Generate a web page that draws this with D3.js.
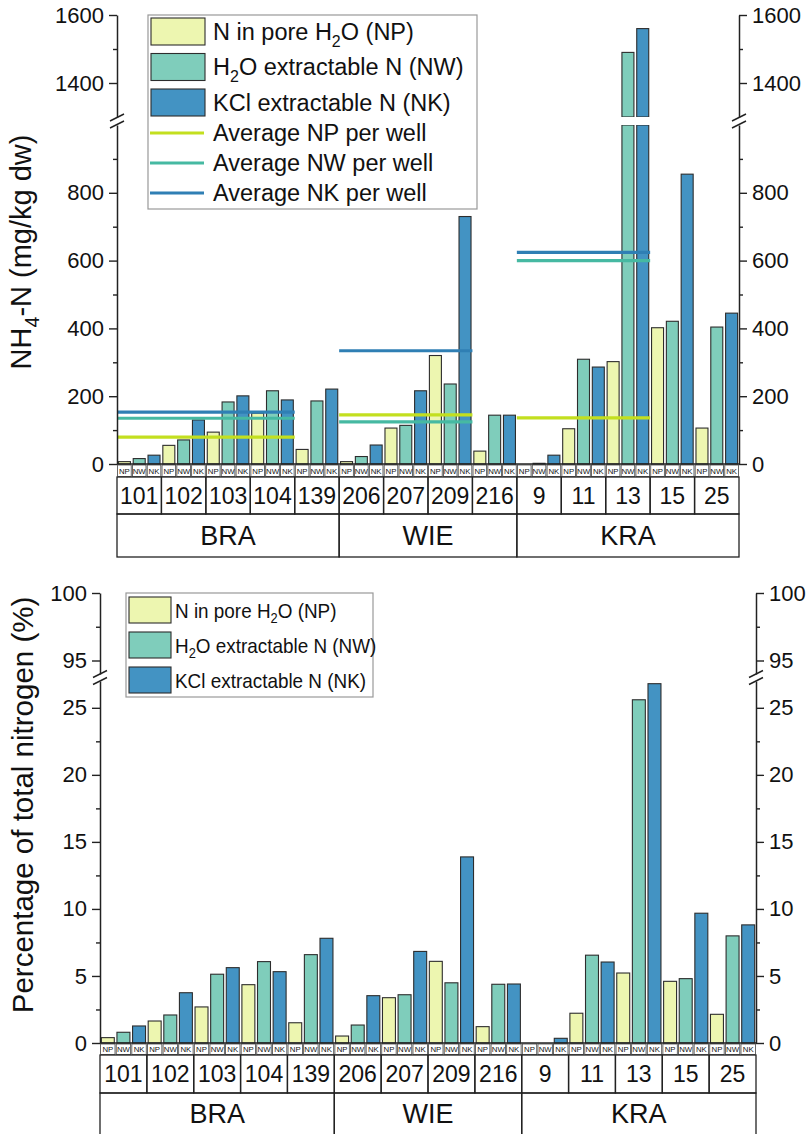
<!DOCTYPE html>
<html>
<head>
<meta charset="utf-8">
<script src="https://cdn.jsdelivr.net/npm/d3@7"></script>
<style>
  body { margin: 0; background: #fff; }
  text { font-family: "Liberation Sans", Arial, Helvetica, sans-serif; fill: #111; }
</style>
</head>
<body>
<svg id="chart" width="811" height="1134"></svg>
<script>
// ---- data ----
const regions = ["BRA", "WIE", "KRA"];
const wells = ["101", "102", "103", "104", "139", "206", "207", "209", "216", "9", "11", "13", "15", "25"];
const wellRegion = ["BRA", "BRA", "BRA", "BRA", "BRA", "WIE", "WIE", "WIE", "WIE", "KRA", "KRA", "KRA", "KRA", "KRA"];
const fractions = ["NP", "NW", "NK"];

// NH4-N (mg/kg dw) per well
const nh4NP = [7, 55, 94, 150, 43, 7, 106, 320, 38, 0, 104, 302, 402, 106];
const nh4NW = [16, 71, 183, 216, 186, 22, 114, 236, 144, 2, 309, 1490, 421, 404];
const nh4NK = [26, 130, 201, 189, 221, 56, 216, 730, 144, 26, 286, 1560, 855, 445];

// averages per site, drawn from the left edge of avgFromWell to the left edge of avgToWell
const avgNP = [79, 145, 136];
const avgNW = [135, 124, 600];
const avgNK = [153, 334, 624];
const avgFromWell = ["101", "206", "9"];
const avgToWell = ["139", "216", "15"];

// percentage of total nitrogen per well
const pctNP = [0.4, 1.64, 2.69, 4.35, 1.51, 0.52, 3.38, 6.09, 1.22, 0, 2.22, 5.22, 4.6, 2.14];
const pctNW = [0.8, 2.09, 5.13, 6.07, 6.59, 1.34, 3.6, 4.49, 4.38, 0, 6.55, 25.6, 4.8, 7.99];
const pctNK = [1.27, 3.75, 5.62, 5.32, 7.81, 3.53, 6.83, 13.88, 4.4, 0.35, 6.04, 26.8, 9.68, 8.81];

// tick values
const nh4TicksLow = [0, 200, 400, 600, 800];
const nh4MinorLow = [100, 300, 500, 700, 900];
const nh4TicksHigh = [1400, 1600];
const nh4MinorHigh = [1500];
const pctTicksLow = [0, 5, 10, 15, 20, 25];
const pctMinorLow = [2.5, 7.5, 12.5, 17.5, 22.5];
const pctTicksHigh = [95, 100];
const pctMinorHigh = [97.5];

// ---- style ----
const fill = { NP: "#edf6b0", NW: "#7fcdbb", NK: "#4393c3" };
const avgStroke = { NP: "#c3df1f", NW: "#46b9a2", NK: "#2f7fb4" };
const legendLabels = {
  NP: ["N in pore H", "2", "O (NP)"],
  NW: ["H", "2", "O extractable N (NW)"],
  NK: ["KCl extractable N (NK)"]
};

const svg = d3.select("#chart");

// text with an optional subscript part: [before, sub, after]
function richText(sel, parts, size) {
  const t = sel.append("text").attr("font-size", size);
  t.append("tspan").text(parts[0]);
  if (parts.length > 1) {
    t.append("tspan").text(parts[1]).attr("font-size", size * 0.68).attr("dy", size * 0.28);
    t.append("tspan").text(parts[2]).attr("dy", -size * 0.28);
  }
  return t;
}

function drawPanel(cfg) {
  const g = svg.append("g");
  const slots = wells.flatMap(w => fractions.map(f => w + "|" + f));
  const xSlot = d3.scaleBand().domain(slots).range([cfg.x0, cfg.x1]);
  const xWell = d3.scaleBand().domain(wells).range([cfg.x0, cfg.x1]);
  const yLo = d3.scaleLinear().domain(cfg.loDomain).range(cfg.loRange);
  const yHi = d3.scaleLinear().domain(cfg.hiDomain).range(cfg.hiRange);
  const loMax = cfg.loDomain[1];
  const bw = xSlot.bandwidth() * cfg.barFrac;
  const yZero = yLo(0);

  const rows = [];
  wells.forEach((w, i) => fractions.forEach(f => rows.push({ w, f, v: cfg.series[f][i] })));

  // bars (split into two pieces when they run past the axis break)
  const bars = g.append("g");
  const gaps = g.append("g");
  rows.forEach(d => {
    if (d.v <= 0) return;
    const x = xSlot(d.w + "|" + d.f) + (xSlot.bandwidth() - bw) / 2;
    const top = Math.min(d.v, loMax);
    bars.append("rect")
      .attr("x", x).attr("width", bw)
      .attr("y", yLo(top)).attr("height", yZero - yLo(top))
      .attr("fill", fill[d.f]).attr("stroke", "#2d2d2d").attr("stroke-width", 1.1);
    if (d.v > loMax) {
      bars.append("rect")
        .attr("x", x).attr("width", bw)
        .attr("y", yHi(d.v)).attr("height", yHi(cfg.hiDomain[0]) - yHi(d.v))
        .attr("fill", fill[d.f]).attr("stroke", "#2d2d2d").attr("stroke-width", 1.1);
      // white gap at the break
      gaps.append("rect")
        .attr("x", x - 1.5).attr("width", bw + 3)
        .attr("y", yHi(cfg.hiDomain[0])).attr("height", yLo(loMax) - yHi(cfg.hiDomain[0]))
        .attr("fill", "#fff");
    }
  });

  // per-site averages
  if (cfg.avg) {
    const ag = g.append("g");
    regions.forEach((r, i) => {
      fractions.forEach(f => {
        ag.append("line")
          .attr("x1", xWell(avgFromWell[i])).attr("x2", xWell(avgToWell[i]))
          .attr("y1", yLo(cfg.avg[f][i])).attr("y2", yLo(cfg.avg[f][i]))
          .attr("stroke", avgStroke[f]).attr("stroke-width", 3.2);
      });
    });
  }

  // y axes (left and right), each in two segments
  const sides = [
    { x: cfg.x0, make: d3.axisLeft },
    { x: cfg.x1, make: d3.axisRight }
  ];
  sides.forEach(s => {
    const ax = g.append("g").attr("transform", `translate(${s.x},0)`);
    [[yLo, cfg.loTicks, cfg.loMinor], [yHi, cfg.hiTicks, cfg.hiMinor]].forEach(([sc, major, minor]) => {
      ax.append("g").call(s.make(sc).tickValues(major).tickFormat(d => String(d))
          .tickSize(8).tickSizeOuter(0).tickPadding(5))
        .call(a => a.selectAll("text").attr("font-size", cfg.tickFont).attr("fill", "#111")
          .style("font-family", '"Liberation Sans", Arial, sans-serif'))
        .call(a => a.selectAll("line").attr("stroke", "#222").attr("stroke-width", 1.4))
        .call(a => a.select(".domain").attr("stroke", "#222").attr("stroke-width", 1.5));
      ax.append("g").call(s.make(sc).tickValues(minor).tickSize(4).tickFormat(""))
        .call(a => a.select(".domain").remove())
        .call(a => a.selectAll("line").attr("stroke", "#222").attr("stroke-width", 1.4));
    });
    // break marks
    const yb = (cfg.hiRange[0] + cfg.loRange[1]) / 2;
    [-3.5, 3.5].forEach(off => {
      ax.append("line")
        .attr("x1", -7).attr("x2", 7)
        .attr("y1", yb + off + 3.5).attr("y2", yb + off - 3.5)
        .attr("stroke", "#222").attr("stroke-width", 1.4);
    });
  });

  // category table under the bars
  const tg = g.append("g");
  const r1 = yZero + cfg.rowH[0], r2 = r1 + cfg.rowH[1];
  slots.forEach(s => {
    const f = s.split("|")[1];
    tg.append("rect")
      .attr("x", xSlot(s) + 0.6).attr("width", xSlot.bandwidth() - 1.2)
      .attr("y", yZero + 1).attr("height", cfg.rowH[0] - 1.5)
      .attr("fill", "#fff").attr("stroke", "#444").attr("stroke-width", 0.8);
    tg.append("text")
      .attr("x", xSlot(s) + xSlot.bandwidth() / 2).attr("y", yZero + cfg.rowH[0] / 2 + 3)
      .attr("text-anchor", "middle").attr("font-size", 7.8).text(f);
  });
  wells.forEach(w => {
    tg.append("rect")
      .attr("x", xWell(w)).attr("width", xWell.bandwidth())
      .attr("y", r1).attr("height", cfg.rowH[1])
      .attr("fill", "none").attr("stroke", "#222").attr("stroke-width", 1.3);
    tg.append("text")
      .attr("x", xWell(w) + xWell.bandwidth() / 2).attr("y", r1 + cfg.rowH[1] / 2 + cfg.wellFont * 0.36)
      .attr("text-anchor", "middle").attr("font-size", cfg.wellFont).text(w);
  });
  regions.forEach(r => {
    const ws = wells.filter((w, i) => wellRegion[i] === r);
    const xa = xWell(ws[0]), xb = xWell(ws[ws.length - 1]) + xWell.bandwidth();
    tg.append("rect")
      .attr("x", xa).attr("width", xb - xa)
      .attr("y", r2).attr("height", cfg.rowH[2])
      .attr("fill", "none").attr("stroke", "#222").attr("stroke-width", 1.3);
    tg.append("text")
      .attr("x", (xa + xb) / 2).attr("y", r2 + cfg.regionTextY)
      .attr("text-anchor", "middle").attr("font-size", cfg.regionFont).text(r);
  });
  // x axis line at zero
  g.append("line").attr("x1", cfg.x0).attr("x2", cfg.x1).attr("y1", yZero).attr("y2", yZero)
    .attr("stroke", "#222").attr("stroke-width", 1.4);

  // legend
  const L = cfg.legend;
  const lg = g.append("g");
  lg.append("rect").attr("x", L.x).attr("y", L.y).attr("width", L.w).attr("height", L.h)
    .attr("fill", "#fff").attr("stroke", "#999").attr("stroke-width", 1.2);
  fractions.forEach((f, i) => {
    const cy = L.y + L.first + i * L.step;
    lg.append("rect").attr("x", L.x + 3).attr("y", cy - L.sw / 2).attr("width", L.swW).attr("height", L.sw)
      .attr("fill", fill[f]).attr("stroke", "#2d2d2d").attr("stroke-width", 1.1);
    richText(lg, legendLabels[f], L.font)
      .attr("transform", `translate(${L.x + L.textX},${cy + L.font * 0.36}) scale(${L.sx},1)`);
  });
  if (L.lines) {
    fractions.forEach((f, i) => {
      const cy = L.y + L.lineFirst + i * L.lineStep;
      lg.append("line").attr("x1", L.x + 2).attr("x2", L.x + 2 + L.swW).attr("y1", cy).attr("y2", cy)
        .attr("stroke", avgStroke[f]).attr("stroke-width", 3.2);
      lg.append("text")
        .attr("transform", `translate(${L.x + L.textX},${cy + L.font * 0.36}) scale(${L.sx},1)`)
        .attr("font-size", L.font).text(`Average ${f} per well`);
    });
  }

  // y title
  richText(g, cfg.title, cfg.titleFont)
    .attr("text-anchor", "middle")
    .attr("transform", `translate(${cfg.titleX},${cfg.titleY}) rotate(-90)`);
}

drawPanel({
  x0: 117, x1: 739,
  loDomain: [0, 1000], loRange: [464, 125],
  hiDomain: [1300, 1600], hiRange: [117, 15],
  loTicks: nh4TicksLow, loMinor: nh4MinorLow, hiTicks: nh4TicksHigh, hiMinor: nh4MinorHigh,
  series: { NP: nh4NP, NW: nh4NW, NK: nh4NK },
  avg: { NP: avgNP, NW: avgNW, NK: avgNK },
  barFrac: 0.81,
  rowH: [13, 37, 43],
  tickFont: 22, wellFont: 23, regionFont: 27, regionTextY: 31,
  title: ["NH", "4", "-N (mg/kg dw)"], titleFont: 29, titleX: 31, titleY: 252,
  legend: { x: 148, y: 15, w: 329, h: 194, first: 16.5, step: 35.5, sw: 27, swW: 54,
            textX: 65, font: 23.5, sx: 1, lines: true, lineFirst: 118, lineStep: 30 }
});

drawPanel({
  x0: 100, x1: 756,
  loDomain: [0, 27], loRange: [1043, 681],
  hiDomain: [94, 100], hiRange: [674, 593],
  loTicks: pctTicksLow, loMinor: pctMinorLow, hiTicks: pctTicksHigh, hiMinor: pctMinorHigh,
  series: { NP: pctNP, NW: pctNW, NK: pctNK },
  avg: null,
  barFrac: 0.83,
  rowH: [12, 38, 80],
  tickFont: 22, wellFont: 23, regionFont: 27, regionTextY: 30,
  title: ["Percentage of total nitrogen (%)"], titleFont: 29.5, titleX: 33, titleY: 805,
  legend: { x: 126, y: 593, w: 247, h: 104, first: 17, step: 35, sw: 26, swW: 42,
            textX: 49, font: 21, sx: 0.9, lines: false }
});
</script>
</body>
</html>
